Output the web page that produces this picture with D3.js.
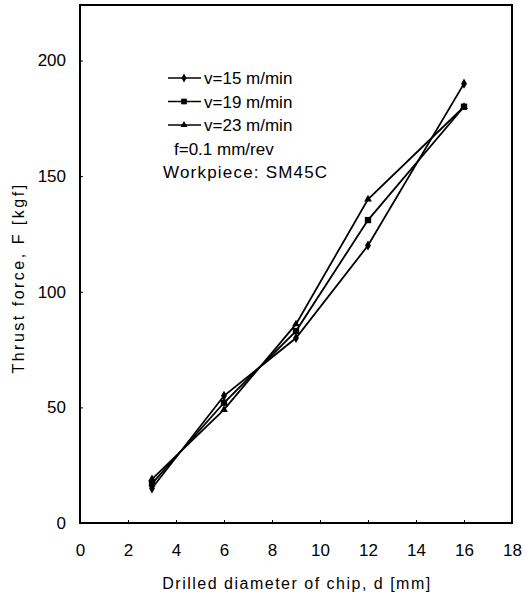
<!DOCTYPE html>
<html>
<head>
<meta charset="utf-8">
<script src="https://cdn.jsdelivr.net/npm/d3@7"></script>
<style>
  body { margin: 0; background: #fff; }
  text { font-family: "Liberation Sans", Arial, sans-serif; fill: #000; }
</style>
</head>
<body>
<div id="chart"></div>
<script>
// data
const diameters = [3, 6, 9, 12, 16];
const v15 = [15, 55, 80, 120, 190];
const v19 = [17, 52, 83, 131, 180];
const v23 = [19, 49, 86, 140, 180];
const seriesNames = ["v=15 m/min", "v=19 m/min", "v=23 m/min"];
const xTicks = [0, 2, 4, 6, 8, 10, 12, 14, 16, 18];
const yTicks = [0, 50, 100, 150, 200];

const width = 527, height = 604;
const margin = {left: 80, right: 15, top: 5, bottom: 81};

const svg = d3.select("#chart").append("svg")
    .attr("width", width)
    .attr("height", height);

const x = d3.scaleLinear().domain([0, 18]).range([margin.left, width - margin.right]);
const y = d3.scaleLinear().domain([0, 224]).range([height - margin.bottom, margin.top]);

// frame
svg.append("rect")
    .attr("x", x(0)).attr("y", y(224))
    .attr("width", x(18) - x(0)).attr("height", y(0) - y(224))
    .attr("fill", "none").attr("stroke", "#000").attr("stroke-width", 2);

// inward ticks
const xAxis = svg.append("g").attr("transform", `translate(0,${y(0)})`)
    .call(d3.axisBottom(x).tickValues(xTicks).tickSizeInner(-3).tickSizeOuter(0).tickPadding(21));
const yAxis = svg.append("g").attr("transform", `translate(${x(0)},0)`)
    .call(d3.axisLeft(y).tickValues(yTicks).tickSizeInner(-3).tickSizeOuter(0).tickPadding(14));
[xAxis, yAxis].forEach(a => {
    a.select(".domain").remove();
    a.selectAll("text").attr("font-size", 17).attr("font-family", "Liberation Sans, Arial, sans-serif");
});

svg.append("text")
    .attr("x", 297).attr("y", 589)
    .attr("text-anchor", "middle").attr("font-size", 16).attr("letter-spacing", 1.5)
    .text("Drilled diameter of chip, d [mm]");
svg.append("text")
    .attr("transform", `translate(24,278) rotate(-90)`)
    .attr("text-anchor", "middle").attr("font-size", 16).attr("letter-spacing", 2.5)
    .text("Thrust force, F [kgf]");

const series = [v15, v19, v23];
const markers = [d3.symbolDiamond, d3.symbolSquare, d3.symbolTriangle];
const markerSize = [30, 40, 26];

const line = d3.line().x((d, i) => x(diameters[i])).y(d => y(d));

series.forEach((vals, k) => {
    svg.append("path")
        .attr("d", line(vals))
        .attr("fill", "none").attr("stroke", "#000").attr("stroke-width", 1.8);
    svg.selectAll(null).data(vals).join("path")
        .attr("transform", (d, i) => `translate(${x(diameters[i])},${y(d)})`)
        .attr("d", d3.symbol(markers[k], markerSize[k]))
        .attr("fill", "#000");
});

// legend
const legend = svg.append("g");
seriesNames.forEach((name, k) => {
    const ly = 78 + k * 23.5;
    legend.append("line")
        .attr("x1", 168).attr("x2", 201).attr("y1", ly).attr("y2", ly)
        .attr("stroke", "#000").attr("stroke-width", 1.5);
    legend.append("path")
        .attr("transform", `translate(184,${ly})`)
        .attr("d", d3.symbol(markers[k], markerSize[k] * 0.8))
        .attr("fill", "#000");
    legend.append("text")
        .attr("x", 204).attr("y", ly + 6)
        .attr("font-size", 17)
        .text(name);
});
legend.append("text").attr("x", 174).attr("y", 155)
    .attr("font-size", 17).text("f=0.1 mm/rev");
legend.append("text").attr("x", 163).attr("y", 178)
    .attr("font-size", 17).attr("letter-spacing", 1.2).text("Workpiece: SM45C");
</script>
</body>
</html>
